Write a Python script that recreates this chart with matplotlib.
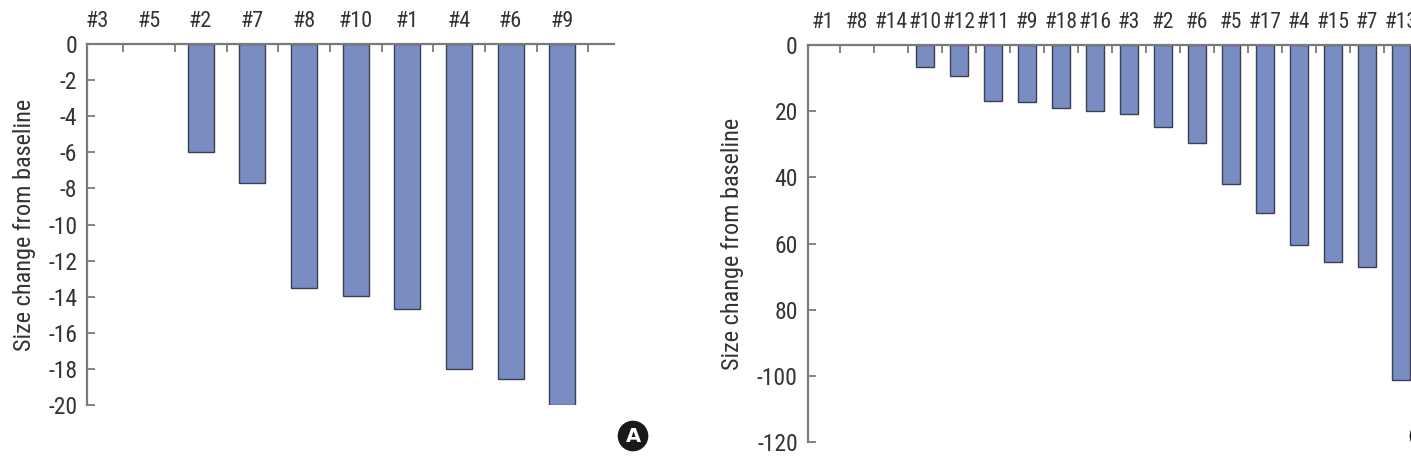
import matplotlib
matplotlib.use("Agg")
import matplotlib.pyplot as plt
from matplotlib import font_manager

# ---- data ----
cats_a = ["#3", "#5", "#2", "#7", "#8", "#10", "#1", "#4", "#6", "#9"]
vals_a = [0, 0, -6.0, -7.7, -13.5, -13.95, -14.7, -18.0, -18.55, -20.0]
yticks_a = [0, -2, -4, -6, -8, -10, -12, -14, -16, -18, -20]

cats_b = ["#1", "#8", "#14", "#10", "#12", "#11", "#9", "#18", "#16", "#3",
          "#2", "#6", "#5", "#17", "#4", "#15", "#7", "#13"]
vals_b = [0, 0, 0, 6.7, 9.4, 16.8, 17.2, 19.1, 20.0, 20.9,
          24.9, 29.7, 42.1, 50.7, 60.4, 65.7, 67.1, 101.3]
yticks_b = [0, 20, 40, 60, 80, 100, 120]
yticklabels_b = ["0", "20", "40", "60", "80", "-100", "-120"]

ylabel = "Size change from baseline"

# ---- fonts ----
names = {f.name for f in font_manager.fontManager.ttflist}
fam = "Roboto Condensed" if "Roboto Condensed" in names else "Liberation Sans"
plt.rcParams["font.family"] = [fam, "DejaVu Sans"]

bar_color = "#7a8dc3"
edge_color = "#3a3f55"
axis_color = "#7a7a7a"
text_color = "#333333"

W, H = 1411, 457
fig = plt.figure(figsize=(W / 100, H / 100), dpi=100)


def px_axes(x0, x1, ytop, ybot):
    return fig.add_axes([x0 / W, 1 - ybot / H, (x1 - x0) / W, (ybot - ytop) / H])


def style(ax, n, xlim, cats, xsize):
    ax.set_xlim(*xlim)
    for s in ["right", "bottom"]:
        ax.spines[s].set_visible(False)
    for s in ["top", "left"]:
        ax.spines[s].set_color(axis_color)
        ax.spines[s].set_linewidth(1.6)
    ax.xaxis.tick_top()
    ax.set_xticks([i + 0.5 for i in range(n)])
    ax.set_xticklabels([])
    ax.set_xticks(range(n), minor=True)
    ax.set_xticklabels(cats, minor=True)
    ax.tick_params(axis="x", which="major", direction="in", length=6, width=1.3,
                   color=axis_color, top=True, bottom=False)
    ax.tick_params(axis="x", which="minor", length=0, pad=9, labelsize=xsize,
                   labelcolor=text_color, top=True, bottom=False,
                   labeltop=True, labelbottom=False)
    ax.tick_params(axis="y", direction="in", length=6, width=1.3, color=axis_color,
                   labelsize=17, labelcolor=text_color, pad=7)


def draw_bars(ax, vals, width):
    idx = [i for i, v in enumerate(vals) if v != 0]
    ax.bar(idx, [vals[i] for i in idx], width=width, color=bar_color,
           edgecolor=edge_color, linewidth=1.0)


# Panel A
axA = px_axes(87, 614, 44, 405)
draw_bars(axA, vals_a, 0.5)
axA.set_ylim(-20, 0)
axA.set_yticks(yticks_a)
axA.set_yticklabels([str(v) for v in yticks_a])
style(axA, len(cats_a), (-0.2, 10.0), cats_a, 16)
axA.set_ylabel(ylabel, fontsize=17.5, color=text_color, labelpad=9)

# Panel B
axB = px_axes(807.5, 1435, 45, 442)
draw_bars(axB, vals_b, 0.53)
axB.set_ylim(120, 0)
axB.set_yticks(yticks_b)
axB.set_yticklabels(yticklabels_b)
style(axB, len(cats_b), (-0.46, 18.0), cats_b, 15.5)
axB.set_ylabel(ylabel, fontsize=17.5, color=text_color, labelpad=9)

# Panel badges
for x, letter in [(633, "A"), (1425, "B")]:
    fig.text(x / W, 1 - 436 / H, letter, ha="center", va="center",
             fontsize=14, fontweight="bold", color="white",
             family="DejaVu Sans",
             bbox=dict(boxstyle="circle,pad=0.3", fc="#1a1a1a", ec="none"))

fig.savefig("out.png", dpi=100)
